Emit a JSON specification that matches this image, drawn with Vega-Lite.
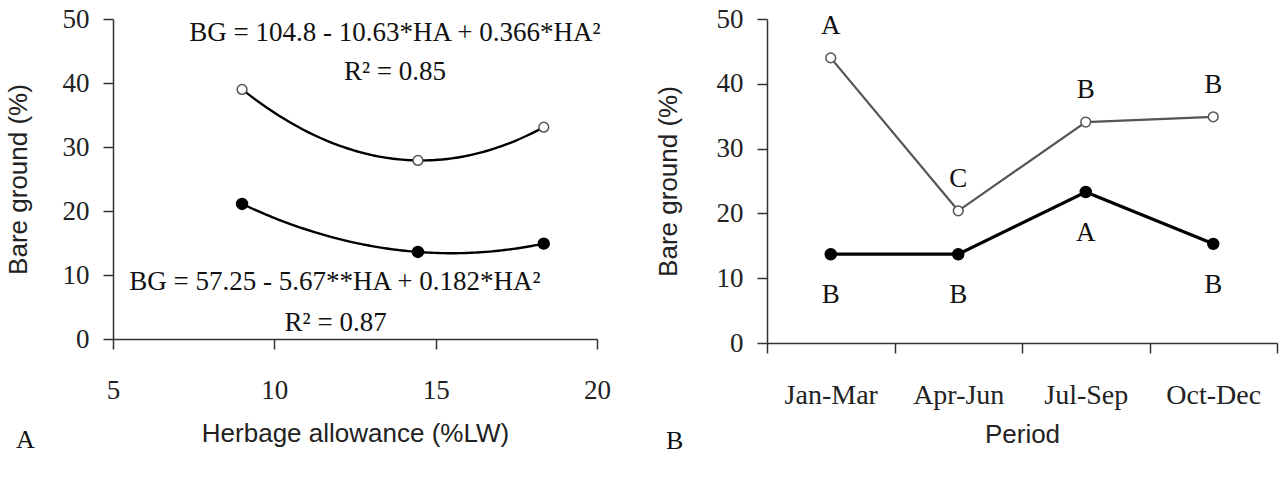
{
  "$schema": "https://vega.github.io/schema/vega-lite/v6.json",
  "background": "white",
  "padding": {"left": 5, "top": 5, "right": 2, "bottom": 5},
  "bounds": "flush",
  "spacing": 170,
  "config": {
    "view": {"stroke": null},
    "axis": {
      "grid": false,
      "domainColor": "#333",
      "domainWidth": 1.5,
      "tickColor": "#333",
      "tickWidth": 1.5,
      "tickSize": 10,
      "labelFont": "Liberation Serif",
      "labelFontSize": 27,
      "labelColor": "#222",
      "titleFont": "Liberation Sans",
      "titleFontSize": 26,
      "titleFontWeight": "normal",
      "titleColor": "#222"
    },
    "text": {"font": "Liberation Serif", "fontSize": 26, "color": "#111"},
    "title": {"font": "Liberation Serif", "fontSize": 26, "fontWeight": "normal", "color": "#111"}
  },
  "datasets": {
    "allowance": [
      {"series": "S1", "ha": 9, "bg": 39.0},
      {"series": "S1", "ha": 14.45, "bg": 27.9},
      {"series": "S1", "ha": 18.35, "bg": 33.1},
      {"series": "S2", "ha": 9, "bg": 21.1},
      {"series": "S2", "ha": 14.45, "bg": 13.6},
      {"series": "S2", "ha": 18.35, "bg": 14.9}
    ],
    "period": [
      {"series": "S1", "period": "Jan-Mar", "bg": 44.0, "letter": "A"},
      {"series": "S1", "period": "Apr-Jun", "bg": 20.4, "letter": "C"},
      {"series": "S1", "period": "Jul-Sep", "bg": 34.1, "letter": "B"},
      {"series": "S1", "period": "Oct-Dec", "bg": 34.9, "letter": "B"},
      {"series": "S2", "period": "Jan-Mar", "bg": 13.7, "letter": "B"},
      {"series": "S2", "period": "Apr-Jun", "bg": 13.7, "letter": "B"},
      {"series": "S2", "period": "Jul-Sep", "bg": 23.3, "letter": "A"},
      {"series": "S2", "period": "Oct-Dec", "bg": 15.3, "letter": "B"}
    ]
  },
  "hconcat": [
    {
      "width": 484,
      "height": 320,
      "title": {"text": "A", "orient": "bottom", "anchor": "start", "frame": "bounds", "offset": -19, "dx": 11},
      "layer": [
        {
          "data": {"name": "allowance"},
          "transform": [
            {"regression": "bg", "on": "ha", "method": "poly", "order": 2, "extent": [9, 18.35], "groupby": ["series"]}
          ],
          "mark": {"type": "line", "color": "black", "strokeWidth": 2.4},
          "encoding": {
            "x": {
              "field": "ha",
              "type": "quantitative",
              "scale": {"domain": [5, 20], "nice": false, "zero": false},
              "axis": {"title": "Herbage allowance (%LW)", "values": [5, 10, 15, 20], "labelFlush": false, "labelPadding": 28, "titlePadding": 17, "labelFont": "Liberation Serif", "labelFontSize": 27}
            },
            "y": {
              "field": "bg",
              "type": "quantitative",
              "scale": {"domain": [0, 50], "nice": false},
              "axis": {"title": "Bare ground (%)", "values": [0, 10, 20, 30, 40, 50], "labelPadding": 14, "titlePadding": 31, "labelFont": "Liberation Serif", "labelFontSize": 27}
            },
            "detail": {"field": "series"}
          }
        },
        {
          "data": {"name": "allowance"},
          "mark": {"type": "point", "filled": true, "strokeWidth": 1.5, "opacity": 1},
          "encoding": {
            "x": {"field": "ha", "type": "quantitative"},
            "y": {"field": "bg", "type": "quantitative"},
            "fill": {"field": "series", "type": "nominal", "scale": {"domain": ["S1", "S2"], "range": ["white", "black"]}, "legend": null},
            "stroke": {"field": "series", "type": "nominal", "scale": {"domain": ["S1", "S2"], "range": ["#555", "black"]}, "legend": null},
            "size": {"field": "series", "type": "nominal", "scale": {"domain": ["S1", "S2"], "range": [95, 120]}, "legend": null}
          }
        },
        {
          "data": {"values": [{"t": "BG = 104.8 - 10.63*HA + 0.366*HA²"}]},
          "mark": {"type": "text", "align": "center", "baseline": "middle", "fontSize": 27},
          "encoding": {"text": {"field": "t"}, "x": {"datum": 13.74}, "y": {"datum": 47.8}}
        },
        {
          "data": {"values": [{"t": "R² = 0.85"}]},
          "mark": {"type": "text", "align": "center", "baseline": "middle", "fontSize": 27},
          "encoding": {"text": {"field": "t"}, "x": {"datum": 13.74}, "y": {"datum": 41.7}}
        },
        {
          "data": {"values": [{"t": "BG = 57.25 - 5.67**HA + 0.182*HA²"}]},
          "mark": {"type": "text", "align": "center", "baseline": "middle", "fontSize": 27},
          "encoding": {"text": {"field": "t"}, "x": {"datum": 11.88}, "y": {"datum": 8.9}}
        },
        {
          "data": {"values": [{"t": "R² = 0.87"}]},
          "mark": {"type": "text", "align": "center", "baseline": "middle", "fontSize": 27},
          "encoding": {"text": {"field": "t"}, "x": {"datum": 11.9}, "y": {"datum": 2.5}}
        }
      ]
    },
    {
      "width": 510,
      "height": 324,
      "title": {"text": "B", "orient": "bottom", "anchor": "start", "frame": "bounds", "offset": -19, "dx": 11},
      "data": {"name": "period"},
      "encoding": {
        "x": {
          "field": "period",
          "type": "ordinal",
          "sort": ["Jan-Mar", "Apr-Jun", "Jul-Sep", "Oct-Dec"],
          "scale": {"type": "band", "paddingInner": 0, "paddingOuter": 0},
          "axis": {"title": "Period", "tickBand": "extent", "labelAngle": 0, "labelPadding": 28, "titlePadding": 12, "labelFont": "Liberation Serif", "labelFontSize": 28}
        },
        "y": {
          "field": "bg",
          "type": "quantitative",
          "scale": {"domain": [0, 50], "nice": false},
          "axis": {"title": "Bare ground (%)", "values": [0, 10, 20, 30, 40, 50], "labelPadding": 14, "titlePadding": 35, "labelFont": "Liberation Serif", "labelFontSize": 27}
        }
      },
      "layer": [
        {
          "mark": {"type": "line"},
          "encoding": {
            "detail": {"field": "series"},
            "stroke": {"field": "series", "type": "nominal", "scale": {"domain": ["S1", "S2"], "range": ["#555", "black"]}, "legend": null},
            "strokeWidth": {"field": "series", "type": "nominal", "scale": {"domain": ["S1", "S2"], "range": [2.2, 3.2]}, "legend": null}
          }
        },
        {
          "mark": {"type": "point", "filled": true, "strokeWidth": 1.5, "opacity": 1},
          "encoding": {
            "fill": {"field": "series", "type": "nominal", "scale": {"domain": ["S1", "S2"], "range": ["white", "black"]}, "legend": null},
            "stroke": {"field": "series", "type": "nominal", "scale": {"domain": ["S1", "S2"], "range": ["#555", "black"]}, "legend": null},
            "size": {"field": "series", "type": "nominal", "scale": {"domain": ["S1", "S2"], "range": [100, 125]}, "legend": null}
          }
        },
        {
          "transform": [{"filter": "datum.series === 'S1'"}],
          "mark": {"type": "text", "align": "center", "baseline": "middle", "dy": -32, "fontSize": 27},
          "encoding": {"text": {"field": "letter"}}
        },
        {
          "transform": [{"filter": "datum.series === 'S2'"}],
          "mark": {"type": "text", "align": "center", "baseline": "middle", "dy": 41, "fontSize": 27},
          "encoding": {"text": {"field": "letter"}}
        }
      ]
    }
  ]
}
